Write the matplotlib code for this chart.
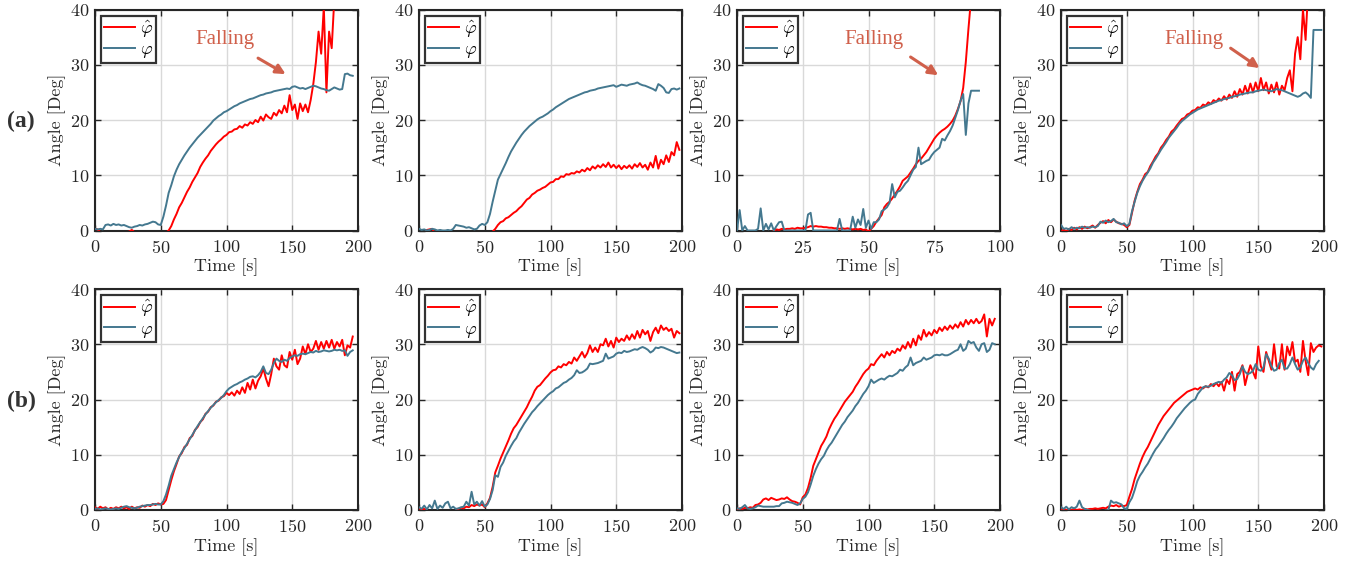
import numpy as np
import matplotlib.pyplot as plt

plt.rcParams['font.family'] = 'cmr10'
plt.rcParams['mathtext.fontset'] = 'cm'
plt.rcParams['axes.formatter.use_mathtext'] = True

RED = '#ff0000'
BLUE = '#44788f'
ARROW = '#d0604b'

# ---- row (a) -------------------------------------------------------------
# sampled every 2 s (panel a3 every 1 s)
a1_hat = [0.3, 0.2, -0.3, -0.8, -1.0, -1.0, -1.2, -1.0, -1.1, -1.0,
          -0.8, -0.6, -0.3, -0.2, 0.1, -0.3, -0.8, -1.0, -1.2, -1.4,
          -1.5, -1.6, -1.8, -1.8, -1.6, -1.4, -1.0, -0.4, 0.0, 0.8,
          2.0, 3.0, 4.2, 5.0, 6.0, 7.0, 7.8, 8.8, 9.6, 10.4,
          11.5, 12.3, 13.0, 13.6, 14.4, 15.0, 15.6, 16.1, 16.5, 17.0,
          17.3, 17.8, 17.9, 18.3, 18.4, 18.9, 18.6, 19.2, 19.0, 19.6,
          19.3, 20.0, 19.6, 20.6, 19.9, 21.0, 20.5, 20.2, 21.3, 20.8,
          21.8, 21.2, 22.6, 21.4, 24.5, 21.8, 22.8, 20.2, 23.0, 21.6,
          22.8, 21.4, 23.6, 26.5, 30.5, 36.0, 32.0, 40.5, 25.0, 36.0,
          33.0, 42.0]
a1_phi = [0.3, 0.2, 0.3, 0.2, 1.0, 1.1, 0.9, 1.2, 1.0, 1.1,
          0.9, 1.0, 0.8, 0.6, 0.5, 0.7, 0.8, 1.0, 0.9, 1.1,
          1.2, 1.4, 1.6, 1.5, 1.1, 1.0, 2.5, 4.5, 6.8, 8.2,
          9.8, 11.0, 12.0, 12.8, 13.6, 14.3, 15.0, 15.6, 16.2, 16.8,
          17.3, 17.8, 18.3, 18.8, 19.3, 19.9, 20.3, 20.7, 21.0, 21.4,
          21.6, 21.9, 22.2, 22.5, 22.7, 23.0, 23.2, 23.4, 23.6, 23.8,
          23.9, 24.1, 24.3, 24.5, 24.6, 24.8, 24.9, 25.0, 25.2, 25.3,
          25.4, 25.5, 25.6, 25.7, 25.6, 26.0, 26.1, 25.9, 25.7, 25.8,
          25.6, 25.8, 26.0, 26.2, 26.1, 25.9, 25.7, 25.6, 25.4, 25.3,
          25.6, 25.9, 25.7, 25.5, 25.6, 28.3, 28.4, 28.1, 28.0]

a2_hat = [-0.5, -0.8, -0.5, 0.1, 0.2, 0.3, -0.4, -0.8, -1.0, -1.0,
          -1.2, -1.2, -1.3, -1.4, -1.3, -1.5, -1.6, -1.5, -1.6, -1.7,
          -1.8, -1.8, -1.9, -1.8, -1.6, -1.4, -1.0, -0.6, -0.2, 0.3,
          1.0, 1.5, 1.7, 2.2, 2.4, 2.8, 3.2, 3.5, 4.0, 4.4,
          5.0, 5.6, 5.9, 6.5, 6.8, 7.2, 7.4, 7.7, 7.9, 8.3,
          8.7, 8.8, 9.3, 9.3, 9.8, 9.7, 10.2, 10.1, 10.4, 10.3,
          10.7, 10.5, 11.0, 10.7, 11.3, 10.9, 11.6, 11.2, 11.8, 11.4,
          12.0, 11.5, 12.3, 11.4, 11.9, 11.3, 11.8, 11.1, 11.7, 11.3,
          11.8, 11.2, 12.0, 11.5, 12.2, 11.4, 11.9, 11.0, 12.3, 11.4,
          13.5, 11.2, 12.8, 12.0, 13.6, 12.4, 14.2, 13.6, 16.0, 14.6]
a2_phi = [0.3, 0.1, 0.2, 0.0, 0.1, 0.3, 0.2, 0.0, 0.1, 0.0,
          0.0, 0.1, 0.0, 0.3, 1.0, 0.9, 0.8, 0.7, 0.5, 0.6,
          0.4, 0.2, 0.3, 0.9, 1.2, 1.0, 1.5, 3.0, 5.2, 7.2,
          9.2, 10.2, 11.2, 12.2, 13.3, 14.3, 15.1, 15.9, 16.6, 17.3,
          17.9, 18.4, 18.9, 19.3, 19.7, 20.1, 20.4, 20.6, 20.9, 21.2,
          21.6, 21.9, 22.3, 22.6, 22.9, 23.2, 23.5, 23.8, 24.0, 24.2,
          24.4, 24.6, 24.8, 25.0, 25.1, 25.3, 25.4, 25.5, 25.7, 25.8,
          25.9, 26.0, 26.1, 26.2, 26.3, 26.0, 26.2, 26.4, 26.3, 26.2,
          26.4, 26.5, 26.6, 26.8, 26.5, 26.3, 26.2, 26.0, 25.8, 25.6,
          25.3, 26.5, 26.2, 25.8, 25.0, 24.9, 25.6, 25.7, 25.5, 25.7]

a3_hat = [-1.0, -1.0, -1.0, -1.0, -1.0, -1.0, -1.0, -1.0, -0.8, -0.8,
          -0.6, -0.5, -0.4, -0.3, -0.1, 0.2, 0.1, 0.3, 0.2, 0.3,
          0.3, 0.4, 0.3, 0.5, 0.4, 0.4, 0.5, 0.6, 0.8, 0.7,
          0.8, 0.7, 0.7, 0.6, 0.6, 0.5, 0.5, 0.4, 0.4, 0.3,
          0.4, 0.3, 0.4, 0.3, 0.2, 0.3, 0.2, 0.3, 0.1, 0.2,
          -0.2, 0.3, 0.8, 1.6, 2.2, 2.8, 4.2, 4.8, 5.2, 5.8,
          6.5, 7.2, 8.0, 9.0, 9.4, 9.8, 10.5, 11.2, 12.0, 12.6,
          13.0, 13.6, 14.2, 15.0, 15.8, 16.6, 17.2, 17.7, 18.1, 18.4,
          18.8, 19.3, 19.9, 20.8, 22.0, 23.4, 25.8, 30.5, 36.5, 42.0]
a3_phi = [0.0, 3.7, 0.0, 0.8, 0.0, 0.0, 0.0, 0.0, 0.3, 4.0,
          0.0, 1.2, 0.2, 1.3, 0.0, 0.8, 1.5, 1.6, 0.0, 0.0,
          0.0, 0.0, 0.0, 0.0, 0.0, 0.0, 0.0, 2.9, 3.2, 0.0,
          0.0, 0.0, 0.0, 0.0, 0.0, 0.0, 0.0, 0.0, 0.0, 2.1,
          0.0, 0.0, 0.0, 0.0, 2.5, 0.5, 2.0, 1.0, 3.9, 0.5,
          1.8, 0.3, 1.5, 1.5, 2.0, 3.5, 3.8, 4.2, 5.0, 8.4,
          6.0, 7.0, 7.2, 7.8, 8.5, 9.0, 10.0, 11.0, 11.5, 15.0,
          12.0, 12.3, 12.6, 12.8, 13.6, 14.2, 14.6, 15.0, 16.6, 16.3,
          17.2, 18.0, 19.0, 20.4, 21.8, 23.5, 24.7, 17.3, 23.0, 25.3,
          25.3, 25.3, 25.3]

a4_hat = [-0.3, 0.2, -0.2, 0.3, 0.1, 0.5, 0.2, 0.6, 0.3, 0.7,
          0.4, 0.6, 0.9, 0.5, 1.0, 1.4, 1.7, 1.3, 1.9, 1.5,
          2.0, 1.6, 1.3, 1.2, 1.0, 0.6, 1.0, 3.2, 5.4, 7.0,
          8.4, 9.2, 10.2, 10.6, 11.7, 12.5, 13.4, 14.0, 15.0, 15.6,
          16.4, 17.0, 17.9, 18.3, 19.0, 19.6, 20.2, 20.4, 21.0, 21.2,
          21.7, 21.8, 22.3, 22.2, 22.8, 22.6, 23.2, 22.9, 23.6, 23.3,
          23.9, 23.5, 24.3, 23.7, 24.6, 24.0, 25.2, 24.2, 25.6, 24.6,
          26.2, 24.8, 26.6, 25.0, 26.8, 25.2, 27.6, 25.4, 26.8, 24.8,
          26.4, 25.0, 26.8, 24.6, 26.2, 25.4, 27.6, 29.0, 25.2, 32.0,
          35.0, 31.0, 40.0, 34.5, 44.0]
a4_phi = [1.0, 0.3, 0.4, 0.2, 0.6, 0.3, 0.5, 0.4, 0.7, 0.5,
          0.6, 0.5, 0.7, 0.6, 0.8, 1.6, 1.4, 1.8, 1.5, 1.7,
          2.1, 1.5, 1.4, 1.1, 1.3, 0.8, 1.2, 3.5, 5.2, 6.8,
          8.0, 9.0, 9.8, 10.5, 11.3, 12.3, 13.0, 13.8, 14.6, 15.3,
          16.0, 16.8, 17.4, 18.0, 18.6, 19.3, 19.8, 20.2, 20.6, 21.0,
          21.3, 21.6, 21.9, 22.1, 22.3, 22.5, 22.7, 22.9, 23.1, 23.3,
          23.5, 23.6, 23.8, 23.9, 24.0, 24.2, 24.3, 24.4, 24.6, 24.7,
          24.8, 24.9, 25.0, 25.0, 25.2, 25.3, 25.4, 25.5, 25.4, 25.3,
          25.2, 25.4, 25.6, 25.5, 25.4, 25.2, 25.0, 24.8, 24.6, 24.4,
          24.2, 24.4, 24.8, 25.0, 24.6, 24.0, 36.3, 36.3, 36.3, 36.3]

# ---- row (b) -------------------------------------------------------------
b1_hat = [0.5, 0.2, 0.6, 0.3, 0.5, 0.1, 0.4, 0.2, 0.5, 0.3,
          0.6, 0.3, 0.5, 0.2, 0.6, 0.3, 0.5, 0.4, 0.8, 0.6,
          0.9, 0.7, 1.1, 0.9, 1.2, 1.0, 1.1, 1.8, 3.6, 5.4,
          7.0, 8.3, 9.7, 10.3, 11.4, 11.8, 13.0, 13.4, 14.5, 15.0,
          15.9, 16.4, 17.4, 17.8, 18.6, 18.9, 19.6, 19.8, 20.4, 20.6,
          21.2, 20.8, 21.3, 20.7, 21.6, 21.0, 22.2, 21.2, 23.0, 21.8,
          23.6, 22.0, 23.4, 24.2, 25.6, 23.8, 22.4, 24.6, 27.4, 26.0,
          25.4, 28.0, 26.2, 25.8, 28.6, 27.2, 29.0, 26.4, 27.4, 29.6,
          28.2, 30.0, 28.6, 29.2, 30.6, 29.0, 30.4, 29.2, 30.6, 29.4,
          30.8, 29.2, 30.4, 29.6, 30.8, 28.0, 29.8, 29.4, 31.4]
b1_phi = [0.2, 0.3, 0.1, 0.2, 0.3, 0.2, 0.1, 0.2, 0.3, 0.2,
          0.4, 0.6, 0.7, 0.5, 0.4, 0.3, 0.4, 0.6, 0.7, 0.8,
          0.9, 0.9, 1.0, 1.1, 1.0, 1.0, 1.6, 2.8, 4.4, 6.2,
          7.4, 8.6, 9.6, 10.5, 11.2, 12.0, 12.8, 13.6, 14.4, 15.2,
          15.9, 16.6, 17.3, 17.9, 18.5, 19.0, 19.5, 19.9, 20.3, 20.8,
          21.5, 22.0, 22.3, 22.6, 22.8, 23.1, 23.3, 23.6, 23.8, 24.1,
          24.2, 24.0, 24.4, 25.0, 26.0, 24.8, 24.6, 25.4, 26.6, 27.4,
          27.0, 26.8, 27.2, 27.0, 27.5, 27.8, 28.0, 27.9, 28.2, 28.3,
          28.2, 28.4, 28.6, 28.5, 28.8, 28.6, 28.7, 28.9, 28.8, 28.7,
          28.8, 29.0, 28.9, 29.0, 28.8, 28.9, 27.9, 28.6, 28.9]

b2_hat = [0.3, 0.1, 0.2, -0.5, -0.8, -1.0, -1.0, -1.0, -1.0, -1.0,
          -1.0, -0.8, -0.6, -0.4, -0.2, 0.2, 0.4, 0.3, 0.6, 0.5,
          0.9, 0.7, 1.0, 0.8, 1.0, 0.5, 1.2, 2.2, 4.2, 6.8,
          8.0, 9.3, 10.4, 11.5, 12.6, 13.8, 14.8, 15.4, 16.2, 17.0,
          17.8, 18.6, 19.6, 20.5, 21.6, 22.3, 22.6, 23.2, 23.8, 24.3,
          24.9, 25.3, 25.4, 26.0, 25.8, 26.4, 26.2, 26.8, 26.5, 27.6,
          27.0, 27.8, 28.6, 27.6, 28.4, 29.8, 28.6, 29.4, 28.6, 30.0,
          29.8, 31.0, 29.6, 30.6, 29.4, 31.2, 30.4, 31.0, 30.6, 31.6,
          30.8, 31.8, 31.0, 32.4, 31.2, 32.6, 31.8, 32.4, 30.6, 32.2,
          33.0, 32.0, 33.4, 32.6, 33.0, 32.4, 32.8, 31.2, 32.4, 32.0]
b2_phi = [0.5, 0.2, 0.8, 0.1, 0.9, 0.3, 1.7, 0.2, 0.8, 0.4,
          1.2, 1.5, 0.3, 0.6, 0.2, 0.3, 0.5, 0.6, 1.5, 0.8,
          3.3, 1.0, 1.5, 0.8, 1.6, 0.6, 1.0, 2.0, 3.6, 6.3,
          6.0, 7.8, 8.6, 9.8, 10.7, 11.6, 12.4, 13.0, 14.0, 14.8,
          15.6, 16.3, 17.0, 17.7, 18.2, 18.8, 19.3, 19.8, 20.3, 20.8,
          21.2, 21.5, 22.0, 22.2, 22.6, 23.0, 23.2, 23.6, 23.9, 24.4,
          25.3, 24.8, 24.9, 25.2, 25.6, 26.5, 26.4, 26.5, 26.6, 26.8,
          27.0, 28.3, 27.4, 27.6, 27.8, 28.3, 28.5, 28.4, 28.8, 28.6,
          28.7, 28.9, 29.1, 29.0, 29.3, 29.5, 29.3, 29.0, 28.5, 28.8,
          29.4, 29.3, 29.5, 29.4, 29.2, 29.0, 28.8, 28.6, 28.4, 28.5]

b3_hat = [0.0, 0.3, 0.2, 0.4, 0.3, 0.5, 0.4, 0.9, 1.0, 1.3,
          1.9, 2.1, 1.8, 2.2, 2.0, 1.8, 1.9, 2.1, 2.0, 2.3,
          1.9, 1.6, 1.5, 1.3, 1.0, 2.3, 2.8, 4.0, 5.8, 8.0,
          9.2, 10.4, 11.6, 12.4, 13.3, 14.6, 15.6, 16.5, 17.2, 18.0,
          18.8, 19.6, 20.2, 20.8, 21.4, 22.3, 23.0, 23.8, 24.6, 25.2,
          25.6, 26.4, 26.2, 27.0, 27.6, 28.2, 27.6, 28.6, 28.0, 28.8,
          28.4, 29.2, 28.8, 29.8, 29.2, 30.4, 29.4, 31.0, 29.8, 31.6,
          30.8, 32.6, 31.4, 32.2, 31.6, 32.6, 32.0, 33.0, 32.4, 33.2,
          32.6, 33.4, 32.8, 33.6, 33.0, 34.0, 33.2, 34.4, 33.6, 34.4,
          33.8, 34.6, 33.8, 34.2, 35.4, 31.4, 34.6, 33.4, 34.6]
b3_phi = [0.3, 0.2, 0.5, 0.9, 0.3, 0.2, 0.3, 0.5, 0.8, 0.7,
          0.6, 0.6, 0.6, 0.6, 0.6, 0.7, 0.7, 1.2, 1.3, 1.5,
          1.4, 1.3, 1.1, 0.9, 1.2, 2.0, 2.4, 3.2, 4.6, 6.2,
          7.4, 8.4, 9.2, 9.8, 10.8, 11.6, 12.2, 13.0, 13.8, 14.6,
          15.4, 16.0, 16.8, 17.4, 18.0, 18.8, 19.4, 20.2, 21.0, 21.6,
          22.4, 23.6, 23.0, 23.3, 23.6, 23.8, 23.6, 24.0, 24.3, 24.2,
          24.5, 24.8, 25.4, 25.2, 25.8, 26.2, 27.6, 26.2, 26.6, 26.8,
          27.0, 27.6, 27.2, 27.4, 27.6, 28.0, 28.1, 28.0, 28.2, 28.0,
          28.0, 28.2, 28.5, 28.8, 29.0, 30.0, 28.8, 29.2, 30.6, 30.2,
          30.4, 29.4, 28.8, 30.0, 30.2, 28.6, 29.0, 30.2, 30.0]

b4_hat = [0.1, 0.2, 0.0, 0.1, 0.0, 0.2, 0.0, 0.1, 0.0, 0.2,
          0.1, 0.2, 0.2, 0.3, 0.2, 0.3, 0.4, 0.3, 0.6, 0.8,
          0.7, 0.9, 0.6, 0.8, 0.7, 0.9, 2.4, 3.8, 5.6, 7.0,
          8.4, 9.6, 10.6, 11.4, 12.4, 13.4, 14.4, 15.4, 16.2, 17.0,
          17.6, 18.2, 18.8, 19.4, 19.8, 20.2, 20.6, 21.0, 21.4, 21.6,
          21.8, 22.0, 21.8, 22.2, 22.0, 22.4, 22.2, 22.8, 22.4, 23.0,
          22.4, 23.2, 21.6, 23.6, 22.8, 25.0, 21.6, 24.6, 25.0, 26.2,
          22.6, 24.6, 26.2, 25.0, 23.8, 29.6, 26.0, 25.0, 28.6, 27.0,
          25.4, 30.0, 26.0, 25.6, 30.0, 25.4, 29.6, 28.0, 30.4, 26.8,
          27.2, 25.0, 30.6, 27.0, 24.4, 30.2, 28.6, 29.4, 29.8, 29.6]
b4_phi = [0.5, 0.2, 0.6, 0.1, 0.5, 0.3, 0.6, 1.7, 0.5, 0.2,
          0.0, -0.1, -0.2, -0.2, -0.2, -0.2, -0.2, -0.1, 0.0, 1.7,
          1.3, 1.4, 1.2, 1.0, 0.3, 0.2, 1.4, 2.2, 3.6, 5.2,
          6.2, 6.9, 7.7, 8.4, 9.3, 10.2, 11.0, 11.6, 12.3, 13.0,
          13.8, 14.5, 15.1, 15.8, 16.6, 17.2, 17.8, 18.4, 18.9, 19.4,
          19.8, 20.0, 21.0, 21.6, 22.2, 22.4, 22.3, 22.5, 22.8, 23.0,
          23.2, 23.0, 23.6, 24.0, 24.8, 24.4, 23.5, 23.7, 24.6, 26.0,
          25.0, 24.6, 24.8, 25.2, 26.4, 25.4, 25.2, 25.8, 28.2, 27.4,
          26.0, 25.2, 25.4, 26.6, 27.2, 25.6, 25.6, 26.4, 27.6, 26.4,
          25.4, 25.8, 27.0, 27.6, 26.6, 25.8, 25.4, 26.4, 27.0]

# (hat, phi, sample step [s], x limit, x ticks, "Falling" annotation)
panels = [
    [(a1_hat, a1_phi, 2, 200, [0, 50, 100, 150, 200], ((99, 34.5), (124, 31.2), (145, 28.3))),
     (a2_hat, a2_phi, 2, 200, [0, 50, 100, 150, 200], None),
     (a3_hat, a3_phi, 1, 100, [0, 25, 50, 75, 100], ((52, 34.5), (66, 31.4), (76.5, 28.1))),
     (a4_hat, a4_phi, 2, 200, [0, 50, 100, 150, 200], ((101, 34.5), (129, 33.0), (151, 29.4)))],
    [(b1_hat, b1_phi, 2, 200, [0, 50, 100, 150, 200], None),
     (b2_hat, b2_phi, 2, 200, [0, 50, 100, 150, 200], None),
     (b3_hat, b3_phi, 2, 200, [0, 50, 100, 150, 200], None),
     (b4_hat, b4_phi, 2, 200, [0, 50, 100, 150, 200], None)],
]
row_labels = ['(a)', '(b)']

W, H = 1364, 563
fig = plt.figure(figsize=(W / 100, H / 100), dpi=100)

lefts = [95, 419, 737, 1061]
tops = [9.5, 289]
aw, ah = 263, 221

for r, row in enumerate(panels):
    for c, (hat, phi, step, xmax, xticks, falling) in enumerate(row):
        ax = fig.add_axes([lefts[c] / W, 1 - (tops[r] + ah) / H, aw / W, ah / H])
        t_hat = np.arange(len(hat)) * step
        t_phi = np.arange(len(phi)) * step
        ax.plot(t_hat, hat, color=RED, lw=1.4, label=r'$\hat{\varphi}$', zorder=3)
        ax.plot(t_phi, phi, color=BLUE, lw=1.4, label=r'$\varphi$', zorder=3)
        ax.set_xlim(0, xmax)
        ax.set_ylim(0, 40)
        ax.set_xticks(xticks)
        ax.set_yticks([0, 10, 20, 30, 40])
        ax.grid(True, color='#d9d9d9', lw=1.0)
        ax.set_axisbelow(True)
        ax.tick_params(direction='in', top=True, right=True, length=4,
                       width=1.0, labelsize=13, colors='#262626')
        ax.tick_params(axis='x', pad=6)
        ax.tick_params(axis='y', pad=4)
        for s in ax.spines.values():
            s.set_color('#262626')
            s.set_linewidth(1.5)
        ax.set_xlabel('Time [s]', fontsize=13, color='#262626', labelpad=2)
        ax.set_ylabel('Angle [Deg]', fontsize=13, color='#262626', labelpad=3)
        leg = ax.legend(loc='upper left', fontsize=13, frameon=True, fancybox=False,
                        borderpad=0.15, labelspacing=0.1, handlelength=1.7,
                        handletextpad=0.3, borderaxespad=0.35)
        leg.get_frame().set_edgecolor('black')
        leg.get_frame().set_linewidth(1.6)
        if falling is not None:
            txt, tail, head = falling
            ax.text(txt[0], txt[1], 'Falling', color=ARROW, fontsize=15,
                    family='Liberation Serif', ha='center', va='center')
            ax.annotate('', xy=head, xytext=tail,
                        arrowprops=dict(arrowstyle='-|>', color=ARROW, lw=2.2,
                                        mutation_scale=14, shrinkA=0, shrinkB=0))
    fig.text(21 / W, 1 - (tops[r] + 112) / H, row_labels[r], fontsize=17,
             family='Liberation Serif', fontweight='bold', color='#333333',
             ha='center', va='center')

fig.savefig('out.png', dpi=100)
